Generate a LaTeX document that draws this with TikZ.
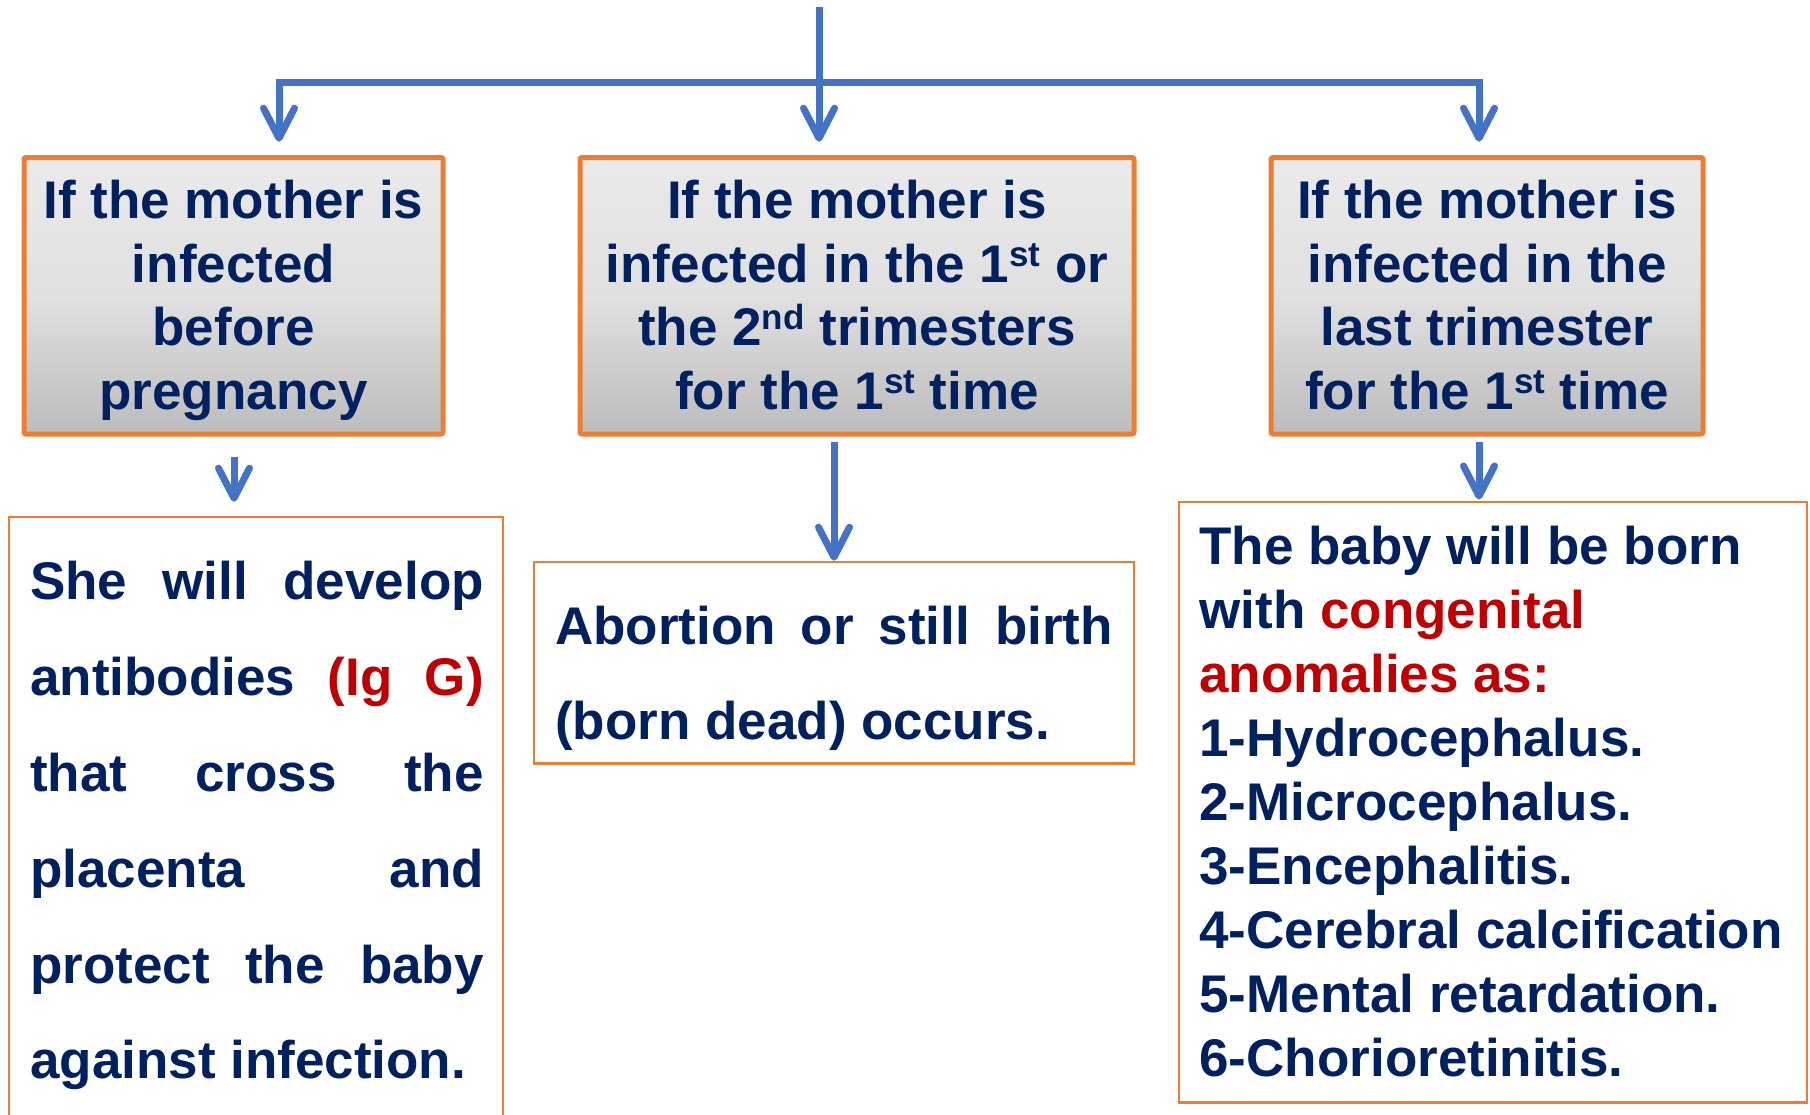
\documentclass[tikz,border=0pt]{standalone}
\usepackage{fontspec}
\setmainfont{Liberation Sans}
\usetikzlibrary{arrows.meta}
\definecolor{navy}{RGB}{0,32,96}
\definecolor{redc}{RGB}{192,0,0}
\definecolor{orangec}{RGB}{237,125,49}
\definecolor{bluec}{RGB}{68,114,196}
\definecolor{gtop}{RGB}{234,234,234}
\definecolor{gmid}{RGB}{224,224,224}
\definecolor{gbot}{RGB}{188,188,188}
\newcommand{\supx}[1]{\raisebox{16pt}{\fontsize{35}{35}\selectfont #1}}
\tolerance=10000
\begin{document}
\begin{tikzpicture}[x=1pt,y=-1pt,
  headbox/.style={draw=orangec, line width=5pt, rounded corners=2pt, top color=gtop, bottom color=gbot, middle color=gmid, inner sep=0pt},
  resbox/.style={draw=orangec, line width=2.5pt, fill=white, inner sep=0pt},
  txt/.style={inner sep=0pt, text=navy, font=\bfseries},
  conn/.style={draw=bluec, line width=7pt},
  blueArrow/.style={-{Straight Barb[length=30pt,width=31pt,round]}}
]
\useasboundingbox (0,0) rectangle (1810,1114);
\fill[white] (0,0) rectangle (1810,1114);
\clip (0,0) rectangle (1810,1114);

% boxes
\node[headbox, minimum width=419pt, minimum height=276.5pt] (b1) at (233.5,295.75) {};
\node[headbox, minimum width=554pt, minimum height=276.5pt] (b2) at (857,295.75) {};
\node[headbox, minimum width=432pt, minimum height=276.5pt] (b3) at (1487,295.75) {};
\node[resbox, minimum width=493.8pt, minimum height=620pt] (b4) at (256.1,827.2) {};
\node[resbox, minimum width=600.2pt, minimum height=201.6pt] (b5) at (833.9,662.7) {};
\node[resbox, minimum width=628pt, minimum height=600.5pt] (b6) at (1493,802.45) {};

% texts
\node[txt, anchor=base] (t1) at (233.5,218.3) {\parbox[t]{410pt}{\fontsize{53}{63.7}\selectfont\centering
 If the mother is\\ infected\\ before\\ pregnancy}};
\node[txt, anchor=base] (t2) at (857,218.3) {\parbox[t]{540pt}{\fontsize{53}{63.7}\selectfont\centering
 If the mother is\\ infected in the 1\supx{st} or\\ the 2\supx{nd} trimesters\\ for the 1\supx{st} time}};
\node[txt, anchor=base] (t3) at (1487,218.3) {\parbox[t]{420pt}{\fontsize{53}{63.7}\selectfont\centering
 If the mother is\\ infected in the\\ last trimester\\ for the 1\supx{st} time}};
\node[txt, anchor=base west] (t4) at (30,599.8) {\parbox[t]{453.6pt}{\fontsize{53}{95.8}\selectfont
 She will develop\linebreak antibodies \textcolor{redc}{(Ig G)}\linebreak that cross the\linebreak placenta and\linebreak protect the baby\linebreak against infection.}};
\node[txt, anchor=base west] (t5) at (555,644) {\parbox[t]{557.7pt}{\fontsize{53}{95.3}\selectfont
 Abortion or still birth\linebreak (born dead) occurs.}};
\node[txt, anchor=base west] (t6) at (1199.3,564.1) {\parbox[t]{600pt}{\fontsize{53}{64.04}\selectfont\raggedright
 The baby will be born\\ with \textcolor{redc}{congenital}\\ \textcolor{redc}{anomalies as:}\\ 1-Hydrocephalus.\\ 2-Microcephalus.\\ 3-Encephalitis.\\ 4-Cerebral calcification\\ 5-Mental retardation.\\ 6-Chorioretinitis.}};

% connector points
\coordinate (top) at (819,7.3);
\coordinate (aM) at (819,141.7);
\coordinate (cL) at (279,82);
\coordinate (cR) at (1479,82);
\coordinate (aL) at (279,141.7);
\coordinate (aR) at (1479,141.7);
\coordinate (s1) at (234,457);
\coordinate (e1) at (234,501.7);
\coordinate (s2) at (834,442.3);
\coordinate (e2) at (834,560.7);
\coordinate (s3) at (1479,442.3);
\coordinate (e3) at (1479,499.5);

\draw[conn, {Straight Barb[length=30pt,width=31pt,round]}-{Straight Barb[length=30pt,width=31pt,round]}] (aL) -- (cL) -- (cR) -- (aR);
\draw[conn, blueArrow] (top) -- (aM);
\draw[conn, blueArrow] (s1) -- (e1);
\draw[conn, blueArrow] (s2) -- (e2);
\draw[conn, blueArrow] (s3) -- (e3);
\end{tikzpicture}
\end{document}
